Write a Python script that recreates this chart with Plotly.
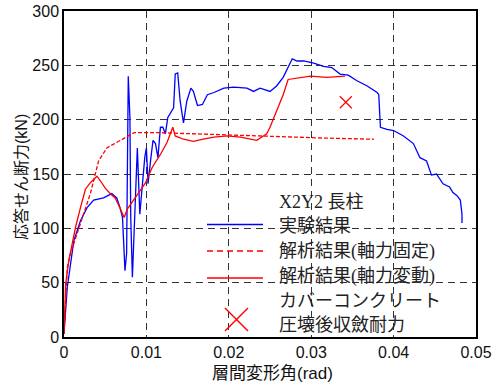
import plotly.graph_objects as go

# Experiment (実験結果)
exp_x = [0, 0.0004, 0.0012, 0.002, 0.0028, 0.0036, 0.0048, 0.0058, 0.0064, 0.0068, 0.0071,
         0.0074, 0.0076, 0.0078, 0.008, 0.0081, 0.0083, 0.0085, 0.0089, 0.0092, 0.0095, 0.0098,
         0.01, 0.0102, 0.0105, 0.0108, 0.0111, 0.0114, 0.0117, 0.012, 0.0123, 0.0126, 0.0133,
         0.0135, 0.0138, 0.0141, 0.0145, 0.0149, 0.0154, 0.0157, 0.0162, 0.0168, 0.0174, 0.0182,
         0.0194, 0.0206, 0.0222, 0.023, 0.0238, 0.025, 0.0258, 0.0266, 0.0277, 0.0283, 0.0291,
         0.0303, 0.0315, 0.0325, 0.0335, 0.0345, 0.0355, 0.0368, 0.038, 0.0382, 0.0384, 0.0392,
         0.04, 0.0412, 0.0424, 0.0432, 0.044, 0.0446, 0.0452, 0.046, 0.0468, 0.0472, 0.0477,
         0.0481, 0.0483, 0.0483]
exp_y = [3, 46, 89, 107, 119, 126, 128, 132, 128, 119, 110,
         61, 77, 240, 202, 110, 55, 95, 174, 113, 138, 165,
         174, 141, 162, 181, 178, 165, 193, 193, 187, 202, 211,
         242, 243, 217, 197, 217, 229, 226, 213, 214, 223, 225,
         229, 230, 229, 226, 229, 226, 231, 239, 256, 254, 254,
         252, 249, 248, 242, 241, 236, 231, 225, 223, 193, 191,
         190, 185, 178, 165, 162, 149, 150, 141, 138, 133, 130,
         126, 113, 105]

# Analysis, fixed axial force (解析結果(軸力固定))
fix_x = [0, 0.0004, 0.0008, 0.0016, 0.0024, 0.0032, 0.0038, 0.0042, 0.0052, 0.0064, 0.0075,
         0.0085, 0.0117, 0.0157, 0.0198, 0.0238, 0.0254, 0.0319, 0.0376]
fix_y = [3, 64, 77, 95, 114, 132, 150, 162, 174, 179, 184,
         188, 188, 187, 186, 185, 184, 183, 182]

# Analysis, varying axial force (解析結果(軸力変動))
var_x = [0, 0.0002, 0.0006, 0.001, 0.0014, 0.002, 0.0026, 0.0032, 0.004, 0.0044, 0.005,
         0.0056, 0.0062, 0.0066, 0.0071, 0.0073, 0.0077, 0.0083, 0.0091, 0.0099, 0.0107,
         0.0117, 0.0125, 0.0132, 0.0135, 0.0145, 0.0157, 0.0169, 0.0182, 0.0198, 0.0214,
         0.0234, 0.0246, 0.025, 0.0258, 0.0266, 0.0272, 0.0287, 0.0299, 0.0319, 0.0341]
var_y = [3, 49, 71, 86, 101, 119, 136, 142, 148, 144, 137,
         132, 128, 122, 113, 110, 118, 124, 133, 142, 156,
         168, 179, 193, 185, 182, 180, 182, 184, 185, 184,
         181, 187, 193, 208, 223, 237, 239, 240, 239, 240]

# Cover concrete crushing capacity
cc_x = [0.0342]
cc_y = [216]

x_title = "層間変形角(rad)"
y_title = "応答せん断力(kN)"
legend_title = "X2Y2 長柱"
legend_labels = ["実験結果", "解析結果(軸力固定)", "解析結果(軸力変動)",
                 "カバーコンクリート", "圧壊後収斂耐力"]
x_ticks = [0, 0.01, 0.02, 0.03, 0.04, 0.05]
x_tick_text = ["0", "0.01", "0.02", "0.03", "0.04", "0.05"]
y_ticks = [0, 50, 100, 150, 200, 250, 300]

BLUE = "#0000ff"
RED = "#ff0000"

fig = go.Figure()
fig.add_trace(go.Scatter(x=exp_x, y=exp_y, mode="lines",
                         line=dict(color=BLUE, width=1.3), showlegend=False))
fig.add_trace(go.Scatter(x=fix_x, y=fix_y, mode="lines",
                         line=dict(color=RED, width=1.3, dash="4px,2px"), showlegend=False))
fig.add_trace(go.Scatter(x=var_x, y=var_y, mode="lines",
                         line=dict(color=RED, width=1.3), showlegend=False))
fig.add_trace(go.Scatter(x=cc_x, y=cc_y, mode="markers",
                         marker=dict(symbol="x-thin", size=12, color=RED,
                                     line=dict(color=RED, width=1.2)),
                         showlegend=False))

W, H = 498, 385
L, R, T, B = 64, 22, 11, 48
PW, PH = W - L - R, H - T - B

def px(xp):
    return (xp - L) / PW

def py(yp):
    return 1 - (yp - T) / PH

# custom legend samples
fig.add_shape(type="line", xref="paper", yref="paper", x0=px(207), x1=px(263),
              y0=py(224.5), y1=py(224.5), line=dict(color=BLUE, width=1.5))
fig.add_shape(type="line", xref="paper", yref="paper", x0=px(207), x1=px(263),
              y0=py(251), y1=py(251), line=dict(color=RED, width=1.5, dash="6px,4px"))
fig.add_shape(type="line", xref="paper", yref="paper", x0=px(207), x1=px(263),
              y0=py(278), y1=py(278), line=dict(color=RED, width=1.5))
fig.add_shape(type="line", xref="paper", yref="paper", x0=px(225), x1=px(248),
              y0=py(308), y1=py(331), line=dict(color=RED, width=1.5))
fig.add_shape(type="line", xref="paper", yref="paper", x0=px(225), x1=px(248),
              y0=py(331), y1=py(308), line=dict(color=RED, width=1.5))

font_leg = "Liberation Serif, 'Noto Sans CJK JP', serif"
texts = [legend_title] + legend_labels
ys = [202, 226, 251, 276, 301, 325]
for t, yy in zip(texts, ys):
    fig.add_annotation(text=t, xref="paper", yref="paper", x=px(277), y=py(yy),
                       xanchor="left", yanchor="middle", showarrow=False,
                       font=dict(family=font_leg, size=18, color="#222"))

# axis titles
fig.add_annotation(text=x_title, xref="paper", yref="paper", x=px(272), y=py(373),
                   xanchor="center", yanchor="middle", showarrow=False,
                   font=dict(size=17, color="#111"))
fig.add_annotation(text=y_title, xref="paper", yref="paper", x=px(22), y=py(177),
                   xanchor="center", yanchor="middle", showarrow=False, textangle=-90,
                   font=dict(size=16, color="#111"))

fig.update_layout(
    width=W, height=H,
    margin=dict(l=L, r=R, t=T, b=B, autoexpand=False),
    paper_bgcolor="white", plot_bgcolor="white",
    font=dict(family="Liberation Sans, 'Noto Sans CJK JP', sans-serif", size=16, color="#111"),
    xaxis=dict(range=[0, 0.05], tickvals=x_ticks, ticktext=x_tick_text,
               showgrid=True, gridcolor="#333", gridwidth=1, griddash="7px,5px",
               showline=True, linecolor="black", linewidth=1.5, mirror=True,
               zeroline=False, ticks="", ticklen=0, automargin=False),
    yaxis=dict(range=[0, 300], tickvals=y_ticks,
               showgrid=True, gridcolor="#333", gridwidth=1, griddash="7px,5px",
               showline=True, linecolor="black", linewidth=1.5, mirror=True,
               zeroline=False, ticks="", ticklen=0, automargin=False),
)

fig.write_html("out.html")
